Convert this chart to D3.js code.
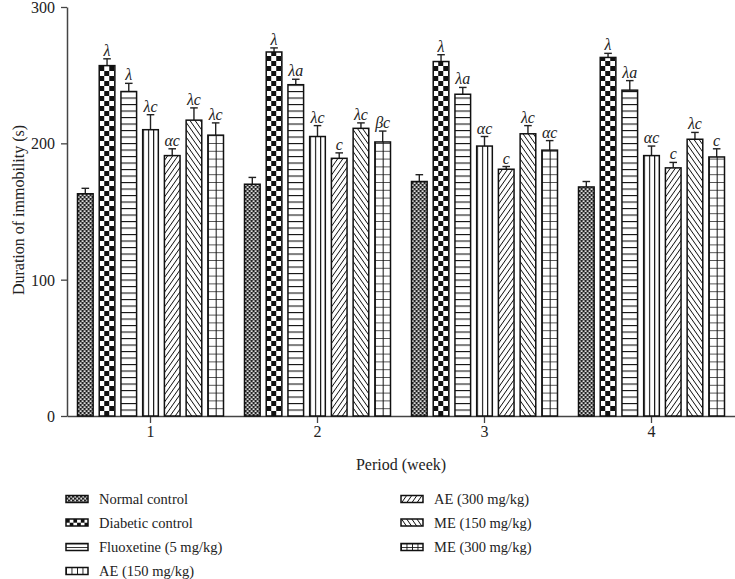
<!DOCTYPE html>
<html><head><meta charset="utf-8">
<script src="https://cdn.jsdelivr.net/npm/d3@7"></script>
<style>body{margin:0;background:#fff}svg{display:block}text{font-family:"Liberation Serif","DejaVu Serif",serif;fill:#222}</style>
</head><body><svg id="c" width="735" height="579"></svg>
<script>
const weeks = ["1","2","3","4"];
const groups = ["Normal control","Diabetic control","Fluoxetine (5 mg/kg)","AE (150 mg/kg)","AE (300 mg/kg)","ME (150 mg/kg)","ME (300 mg/kg)"];
const means = [
  [163,257,238,210,191,217,206],
  [170,267,243,205,189,211,201],
  [172,260,236,198,181,207,195],
  [168,263,239,191,182,203,190]
];
const errs = [
  [4,5,6,11,5,9,9],
  [5,3,4,8,4,4,8],
  [5,5,5,7,2,6,7],
  [4,3,7,7,4,5,6]
];
const marks = [
  ["","λ","λ","λc","αc","λc","λc"],
  ["","λ","λa","λc","c","λc","βc"],
  ["","λ","λa","αc","c","λc","αc"],
  ["","λ","λa","αc","c","λc","c"]
];
const yTicks = [0,100,200,300];

const FF = "Liberation Serif, DejaVu Serif, serif";
const svg = d3.select("#c");
const defs = svg.append("defs");
const L=67, R=735, T=7, B=416;
const x0 = d3.scaleBand().domain(weeks).range([L,R]);
const x1 = d3.scaleBand().domain(d3.range(groups.length)).range([-73,73]).paddingInner(0.28);
const y = d3.scaleLinear().domain([0,300]).range([B,T]);

let pid=0;
function makePattern(type, ox, oy, legend){
  const id="p"+(pid++);
  const p = defs.append("pattern").attr("id",id).attr("patternUnits","userSpaceOnUse").attr("x",ox).attr("y",oy);
  const ln=(a,b,c,d,w)=>p.append("line").attr("x1",a).attr("y1",b).attr("x2",c).attr("y2",d).attr("stroke","#111").attr("stroke-width",w||1);
  const bg=(w,h,c)=>p.append("rect").attr("width",w).attr("height",h).attr("fill",c||"#fff");
  if(type===0){ // fine mesh
    p.attr("width",4).attr("height",4);
    bg(4,4,"#222");
    p.append("rect").attr("x",0.3).attr("y",0.3).attr("width",1.7).attr("height",1.7).attr("fill","#fff");
    p.append("rect").attr("x",2.3).attr("y",2.3).attr("width",1.7).attr("height",1.7).attr("fill","#fff");
  } else if(type===1){ // checkerboard
    const s = legend?3.7:5;
    p.attr("width",2*s).attr("height",2*s);
    bg(2*s,2*s);
    p.append("rect").attr("x",0).attr("y",0).attr("width",s).attr("height",s).attr("fill","#111");
    p.append("rect").attr("x",s).attr("y",s).attr("width",s).attr("height",s).attr("fill","#111");
  } else if(type===2){ // horizontal
    const h = legend?3.5:6.5;
    p.attr("width",10).attr("height",h);
    bg(10,h);
    ln(0,legend?0:0.5,10,legend?0:0.5,legend?1.6:1.2);
  } else if(type===3){ // vertical
    const w = legend?5.5:x1.bandwidth()/3;
    p.attr("width",w).attr("height",10);
    bg(20,10);
    ln(0,0,0,10,legend?1.8:2.2);
  } else if(type===4){ // "/"
    p.attr("width",4.2).attr("height",4.2).attr("patternTransform",`rotate(35 ${ox} ${oy})`);
    bg(5,5);
    ln(0,0,0,4.2,1.7);
  } else if(type===5){ // "\"
    p.attr("width",4.2).attr("height",4.2).attr("patternTransform",`rotate(-35 ${ox} ${oy})`);
    bg(5,5);
    ln(0,0,0,4.2,1.7);
  } else { // grid
    const w = legend?5.5:x1.bandwidth()/2, h = legend?3.5:7.8;
    p.attr("width",w).attr("height",h);
    bg(20,10);
    ln(0,0,0,10,legend?1.8:2); ln(0,0,20,0,legend?1.6:1.4);
  }
  return "url(#"+id+")";
}

// axes
const ya = svg.append("g").attr("transform",`translate(${L},0)`)
  .call(d3.axisLeft(y).tickValues(yTicks).tickSize(6).tickSizeOuter(0));
ya.attr("font-family",FF);
ya.select(".domain").attr("stroke","#444").attr("stroke-width",1.5);
ya.selectAll(".tick line").attr("stroke","#444").attr("stroke-width",1.3);
ya.selectAll("text").attr("font-size",16).attr("x",-12).attr("dy","0.35em").attr("fill","#222");

const xa = svg.append("g").attr("transform",`translate(0,${B})`)
  .call(d3.axisBottom(x0).tickSize(7).tickSizeOuter(0));
xa.attr("font-family",FF);
xa.select(".domain").attr("stroke","#444").attr("stroke-width",1.5);
xa.selectAll(".tick line").attr("stroke","#444").attr("stroke-width",1.3);
xa.selectAll("text").attr("font-size",16).attr("y",10).attr("fill","#222");

// bars
weeks.forEach((w,wi)=>{
  const cx = x0(w)+x0.bandwidth()/2;
  groups.forEach((g,gi)=>{
    const bx = cx + x1(gi), bw = x1.bandwidth();
    const v = means[wi][gi], e = errs[wi][gi];
    const fill = makePattern(gi, bx, y(0), false);
    svg.append("line").attr("x1",bx+bw/2).attr("x2",bx+bw/2).attr("y1",y(v)).attr("y2",y(v+e)).attr("stroke","#222").attr("stroke-width",1.4);
    svg.append("line").attr("x1",bx+bw/2-3.8).attr("x2",bx+bw/2+3.8).attr("y1",y(v+e)).attr("y2",y(v+e)).attr("stroke","#222").attr("stroke-width",1.4);
    svg.append("rect").attr("x",bx).attr("y",y(v)).attr("width",bw).attr("height",y(0)-y(v))
      .attr("fill",fill).attr("stroke","#111").attr("stroke-width",1.5);
    if(marks[wi][gi]) svg.append("text").attr("x",bx+bw/2).attr("y",y(v+e)-3).attr("text-anchor","middle")
      .attr("font-family",FF).attr("font-size",16).attr("font-style","italic").text(marks[wi][gi]);
  });
});

// titles
svg.append("text").attr("transform","translate(24,210) rotate(-90)").attr("text-anchor","middle").attr("font-family",FF).attr("font-size",16).text("Duration of immobility (s)");
svg.append("text").attr("x",401).attr("y",470).attr("text-anchor","middle").attr("font-family",FF).attr("font-size",16).text("Period (week)");

// legend
groups.forEach((g,gi)=>{
  const col = gi<4?0:1, row = gi<4?gi:gi-4;
  const lx = col===0?66:401, cy = [499,522.5,547,571][row];
  const sw = 22, sh = 7, ly = cy-3.5;
  const fill = makePattern(gi, lx, ly, true);
  svg.append("rect").attr("x",lx).attr("y",ly).attr("width",sw).attr("height",sh).attr("fill",fill).attr("stroke","#111").attr("stroke-width",1.5);
  svg.append("text").attr("x",lx+33).attr("y",cy+5).attr("font-family",FF).attr("font-size",14.5).text(g);
});
</script></body></html>
